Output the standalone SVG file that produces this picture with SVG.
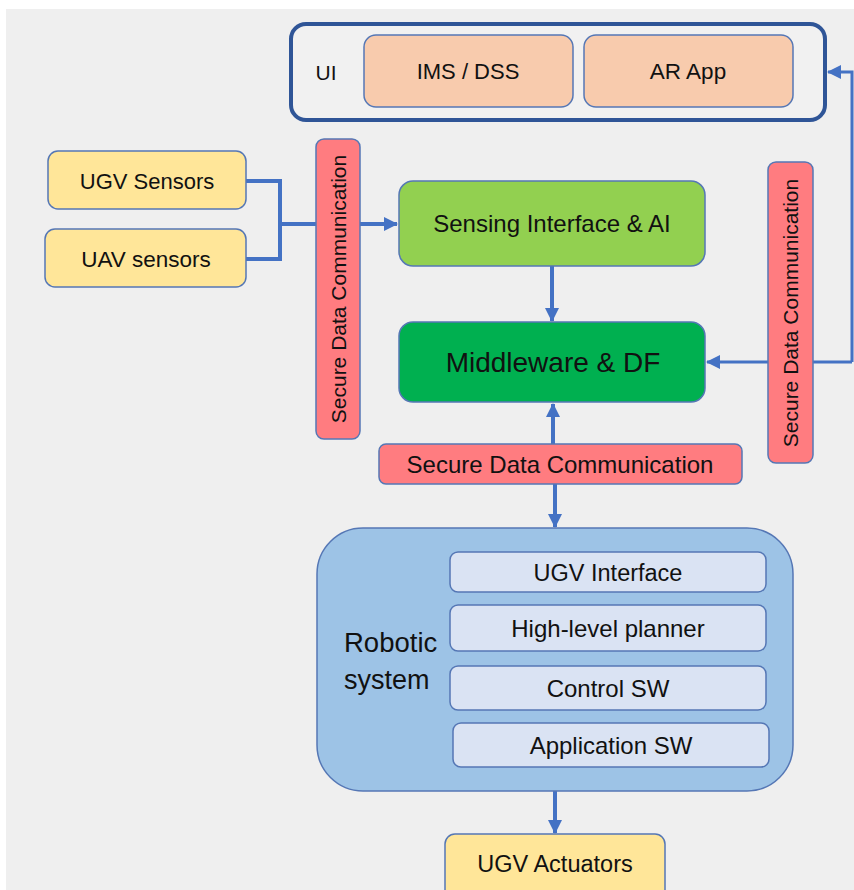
<svg xmlns="http://www.w3.org/2000/svg" width="854" height="890" viewBox="0 0 854 890">
<style>
text{font-family:"Liberation Sans",Arial,sans-serif;fill:#111;text-anchor:middle}
.n{stroke:#5577b5;stroke-width:1.5}
.red{fill:#ff7c80}
.yel{fill:#ffe699}
.org{fill:#f8cbad}
.sub{fill:#dae3f3}
.c{fill:none;stroke:#4472c4;stroke-width:4}
</style>
<defs>
<marker id="ah" markerUnits="userSpaceOnUse" markerWidth="14" markerHeight="14" viewBox="0 0 14 14" refX="13" refY="7" orient="auto">
<path d="M0,0 L14,7 L0,14 Z" fill="#4472c4"/>
</marker>
</defs>
<rect x="0" y="0" width="854" height="890" fill="#ffffff"/>
<rect x="6" y="9" width="848" height="881" fill="#efefef"/>

<g id="connectors">
<path class="c" d="M246,181 H280 V259 H246"/>
<path class="c" d="M280,224 H397" marker-end="url(#ah)"/>
<path class="c" d="M552,266 V321" marker-end="url(#ah)"/>
<path class="c" d="M553,444 V404" marker-end="url(#ah)"/>
<path class="c" d="M555,484 V527" marker-end="url(#ah)"/>
<path class="c" d="M555,791 V833" marker-end="url(#ah)"/>
<path class="c" style="stroke-width:3" d="M852,362 V72 H828" marker-end="url(#ah)"/>
<path class="c" style="stroke-width:3" d="M852,362 H707" marker-end="url(#ah)"/>
</g>

<g id="ui">
<rect x="291" y="24" width="534" height="96" rx="15" fill="#f1f1f1" stroke="#2f5597" stroke-width="4"/>
<text x="326" y="80" font-size="21">UI</text>
</g>
<g id="ims-dss">
<rect class="n org" x="364" y="35" width="209" height="72" rx="12"/>
<text x="468" y="79" font-size="22">IMS / DSS</text>
</g>
<g id="ar-app">
<rect class="n org" x="584" y="35" width="209" height="72" rx="12"/>
<text x="688" y="79" font-size="22.5">AR App</text>
</g>

<g id="ugv-sensors">
<rect class="n yel" x="48" y="151" width="198" height="58" rx="10"/>
<text x="147" y="189" font-size="22">UGV Sensors</text>
</g>
<g id="uav-sensors">
<rect class="n yel" x="45" y="229" width="201" height="58" rx="10"/>
<text x="146" y="267" font-size="22.5">UAV sensors</text>
</g>

<g id="secure-left">
<rect class="n red" x="316" y="139" width="44" height="300" rx="8"/>
<text transform="translate(346,289) rotate(-90)" x="0" y="0" font-size="21">Secure Data Communication</text>
</g>

<g id="secure-right">
<rect class="n red" x="768" y="162" width="45" height="301" rx="8"/>
<text transform="translate(798,313) rotate(-90)" x="0" y="0" font-size="21">Secure Data Communication</text>
</g>

<g id="sensing">
<rect class="n" x="399" y="181" width="306" height="85" rx="14" fill="#92d050"/>
<text x="552" y="232" font-size="24">Sensing Interface &amp; AI</text>
</g>

<g id="middleware">
<rect class="n" x="399" y="322" width="306" height="80" rx="14" fill="#00b050"/>
<text x="553" y="372" font-size="28">Middleware &amp; DF</text>
</g>

<g id="secure-mid">
<rect class="n red" x="379" y="444" width="363" height="40" rx="7"/>
<text x="560" y="473" font-size="24">Secure Data Communication</text>
</g>

<g id="robotic">
<rect class="n" x="317" y="528" width="476" height="263" rx="46" fill="#9dc3e6"/>
<text x="344" y="652" font-size="27.5" text-anchor="start" style="text-anchor:start">Robotic</text>
<text x="344" y="689" font-size="27" style="text-anchor:start">system</text>
</g>
<g id="ugv-interface">
<rect class="n sub" x="450" y="552" width="316" height="40" rx="8"/>
<text x="608" y="581" font-size="23.5">UGV Interface</text>
</g>
<g id="planner">
<rect class="n sub" x="450" y="605" width="316" height="46" rx="8"/>
<text x="608" y="637" font-size="24">High-level planner</text>
</g>
<g id="control">
<rect class="n sub" x="450" y="666" width="316" height="44" rx="8"/>
<text x="608" y="697" font-size="24">Control SW</text>
</g>
<g id="application">
<rect class="n sub" x="453" y="723" width="316" height="44" rx="8"/>
<text x="611" y="754" font-size="24">Application SW</text>
</g>

<g id="ugv-actuators">
<rect class="n yel" x="445" y="834" width="220" height="70" rx="10"/>
<text x="555" y="872" font-size="23.5">UGV Actuators</text>
</g>
</svg>
